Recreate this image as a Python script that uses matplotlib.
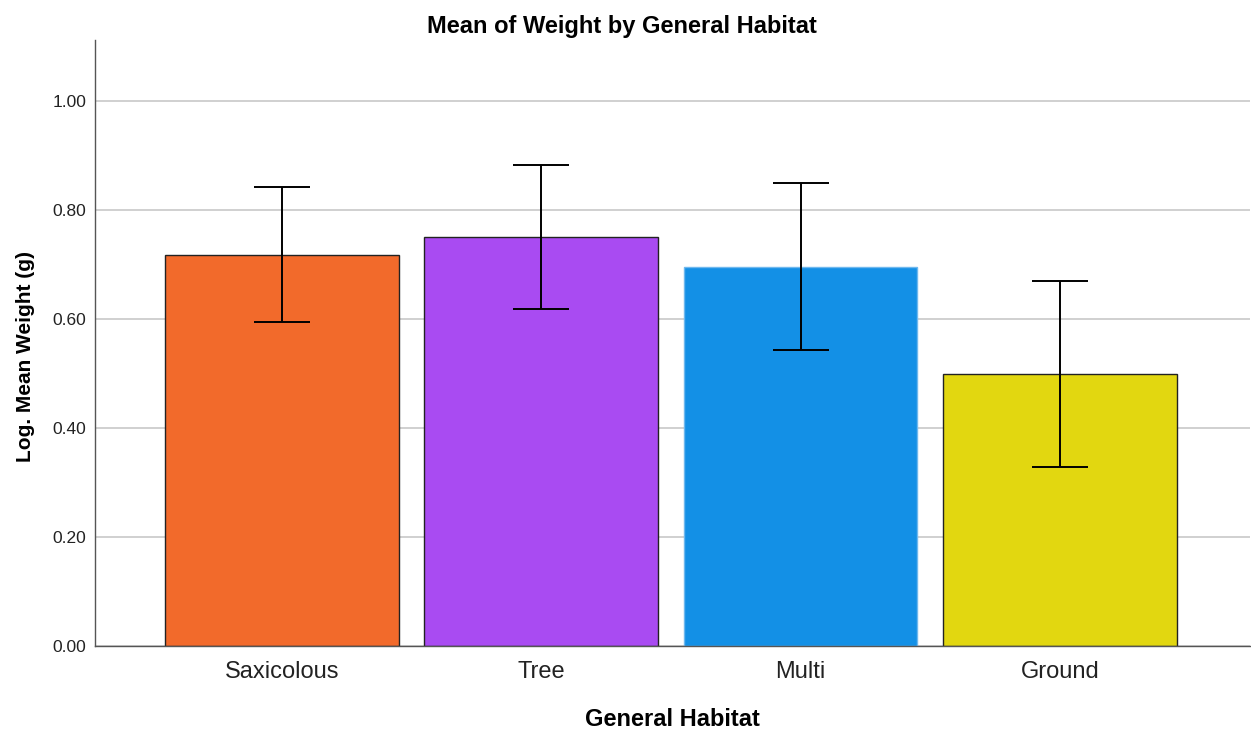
import matplotlib
matplotlib.use("Agg")
import matplotlib.pyplot as plt
import numpy as np

habitats = ["Saxicolous", "Tree", "Multi", "Ground"]
means = [0.717, 0.750, 0.695, 0.499]
ci_low = [0.594, 0.618, 0.543, 0.328]
ci_high = [0.842, 0.883, 0.850, 0.670]
colors = ["#f26a2b", "#a94bf2", "#1390e6", "#e2d710"]
edges = ["#222222", "#222222", "#6fb8ee", "#222222"]

plt.rcParams["font.family"] = ["Liberation Sans", "DejaVu Sans"]

fig = plt.figure(figsize=(12.51, 7.29), dpi=100)
ax = fig.add_axes([0.0759, 0.1139, 0.923, 0.8311])

x = np.arange(len(habitats))
m = np.array(means)
yerr = [m - np.array(ci_low), np.array(ci_high) - m]
ax.bar(x, m, width=0.9, color=colors, edgecolor=edges, linewidth=1.0, zorder=2)
ax.errorbar(x, m, yerr=yerr, fmt="none", ecolor="black", elinewidth=1.4,
            capsize=20, capthick=1.4, zorder=3)

ticks = [0, 0.2, 0.4, 0.6, 0.8, 1.0]
ax.set_xlim(-0.72, 3.73)
ax.set_ylim(0, 1.112)
ax.set_yticks(ticks)
ax.set_yticklabels([f"{v:.2f}" for v in ticks], fontsize=12.5, color="#222222")
ax.set_xticks(x)
ax.set_xticklabels(habitats, fontsize=17, color="#222222")
ax.tick_params(axis="y", length=0, pad=6)
ax.tick_params(axis="x", length=0, pad=11)
ax.grid(axis="y", color="#c8c8c8", linewidth=1.2, zorder=0)
ax.set_axisbelow(True)
for s in ["top", "right"]:
    ax.spines[s].set_visible(False)
for s in ["left", "bottom"]:
    ax.spines[s].set_color("#555555")
    ax.spines[s].set_linewidth(1.0)

ax.set_xlabel("General Habitat", fontsize=17, fontweight="bold")
ax.xaxis.set_label_coords(0.5, -0.102)
ax.set_ylabel("Log. Mean Weight (g)", fontsize=15, fontweight="bold")
ax.yaxis.set_label_coords(-0.052, 0.477)
fig.text(0.497, 0.963, "Mean of Weight by General Habitat", fontsize=17,
         fontweight="bold", ha="center", va="center")

fig.savefig("out.png", dpi=100)
